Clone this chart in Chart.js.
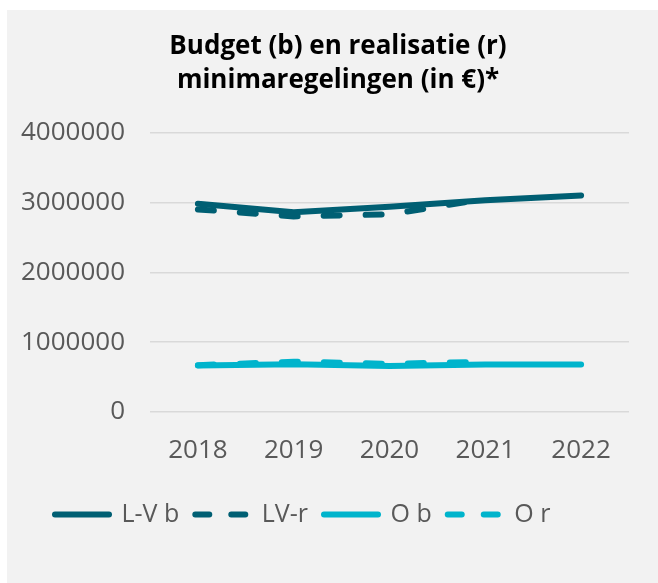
<!DOCTYPE html>
<html>
<head>
<meta charset="utf-8">
<script src="https://cdn.jsdelivr.net/npm/chart.js@4/dist/chart.umd.min.js"></script>
<style>
  html, body { margin: 0; padding: 0; background: #ffffff; }
  #wrap { position: absolute; left: 7px; top: 10px; width: 651px; height: 573px; background: #f2f2f2; }
</style>
</head>
<body>
<div id="wrap"><canvas id="chart" width="651" height="573"></canvas></div>
<script>
// data
const years = ['2018', '2019', '2020', '2021', '2022'];
const lvBudget = [2980000, 2860000, 2940000, 3030000, 3100000];
const lvReal = [2900000, 2800000, 2830000, 3050000, null];
const oBudget = [665000, 685000, 660000, 680000, 680000];
const oReal = [670000, 720000, 690000, 720000, null];

const darkTeal = '#005f73';
const lightCyan = '#00b4cc';
const fontFam = '"Open Sans", "Noto Sans", sans-serif';

function line(label, data, color, dashed) {
    return {
        label: label,
        data: data,
        borderColor: color,
        backgroundColor: color,
        borderWidth: 6,
        borderDash: dashed ? [16, 26] : [],
        borderCapStyle: 'round',
        pointRadius: 0,
        tension: 0,
        spanGaps: false
    };
}

// title sits a bit right of centre, legend a bit left, like the original
const shiftBoxes = {
    id: 'shiftBoxes',
    afterLayout(chart) {
        const t = chart.titleBlock;
        t.left += 20; t.right += 20;
        const l = chart.legend;
        l.left += 32; l.right += 32;
    }
};

new Chart(document.getElementById('chart'), {
    type: 'line',
    data: {
        labels: years,
        datasets: [
            line('L-V b', lvBudget, darkTeal, false),
            line('LV-r', lvReal, darkTeal, true),
            line('O b', oBudget, lightCyan, false),
            line('O r', oReal, lightCyan, true)
        ]
    },
    plugins: [shiftBoxes],
    options: {
        responsive: false,
        animation: false,
        layout: { padding: { left: 0, right: 29, top: 12, bottom: 46 } },
        scales: {
            x: {
                offset: true,
                grid: { display: false, drawTicks: false },
                border: { display: false },
                ticks: { color: '#595959', font: { family: fontFam, size: 26 }, padding: 23 },
                afterFit: s => { s.height = 74; }
            },
            y: {
                min: 0,
                max: 4000000,
                grid: { color: '#d9d9d9', lineWidth: 1.5, drawTicks: false },
                border: { display: false },
                ticks: {
                    stepSize: 1000000,
                    color: '#595959',
                    font: { family: fontFam, size: 26 },
                    padding: 25,
                    callback: v => String(v)
                },
                afterFit: s => { s.width = 143; }
            }
        },
        plugins: {
            title: {
                display: true,
                text: ['Budget (b) en realisatie (r)', 'minimaregelingen (in \u20ac)*'],
                color: '#000000',
                font: { family: fontFam, size: 26, weight: 'bold', lineHeight: 1.3 },
                padding: { top: 8, bottom: 35 }
            },
            legend: {
                position: 'bottom',
                align: 'start',
                labels: {
                    usePointStyle: true,
                    pointStyle: 'line',
                    pointStyleWidth: 54,
                    color: '#595959',
                    font: { family: fontFam, size: 25 },
                    padding: 16,
                    generateLabels: chart => Chart.defaults.plugins.legend.labels.generateLabels(chart).map(item => {
                        const ds = chart.data.datasets[item.datasetIndex];
                        item.lineDash = ds.borderDash.length ? [14, 22] : [];
                        item.lineWidth = 6;
                        item.strokeStyle = ds.borderColor;
                        item.lineCap = 'round';
                        return item;
                    })
                }
            },
            tooltip: { enabled: false }
        }
    }
});
</script>
</body>
</html>
